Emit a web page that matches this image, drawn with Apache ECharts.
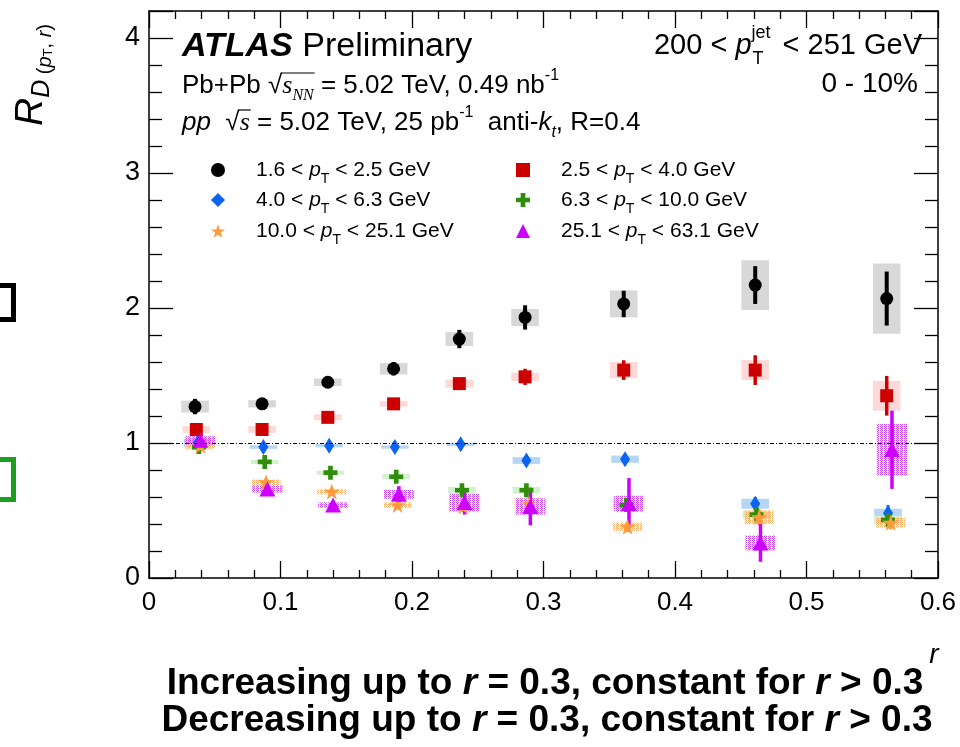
<!DOCTYPE html>
<html>
<head>
<meta charset="utf-8">
<script src="https://cdn.jsdelivr.net/npm/echarts@6/dist/echarts.min.js"></script>
<style>
html, body { margin: 0; padding: 0; background: #fff; }
#chart { width: 960px; height: 747px; }
</style>
</head>
<body>
<div id="chart"></div>
<script>
// R_D(pT, r) in 200 < pT(jet) < 251 GeV, 0-10% centrality, per track-pT interval.
// Each interval: r positions, central values, statistical and systematic half-widths.
const rBlack    = [0.035, 0.086, 0.136, 0.186, 0.236, 0.286, 0.361, 0.461, 0.561];
const valBlack  = [1.27, 1.29, 1.45, 1.55, 1.77, 1.93, 2.03, 2.17, 2.07];
const statBlack = [0.057, 0.02, 0.02, 0.05, 0.068, 0.09, 0.098, 0.14, 0.2];
const systBlack = [0.044, 0.027, 0.027, 0.043, 0.052, 0.063, 0.10, 0.184, 0.26];

const rRed    = [0.036, 0.086, 0.136, 0.186, 0.236, 0.286, 0.361, 0.461, 0.561];
const valRed  = [1.10, 1.10, 1.19, 1.29, 1.44, 1.49, 1.54, 1.54, 1.35];
const statRed = [0.02, 0.02, 0.02, 0.02, 0.025, 0.06, 0.073, 0.11, 0.147];
const systRed = [0.025, 0.025, 0.022, 0.02, 0.03, 0.03, 0.06, 0.074, 0.11];

const rBlue    = [0.037, 0.087, 0.137, 0.187, 0.237, 0.287, 0.362, 0.461, 0.562];
const valBlue  = [1.00, 0.97, 0.98, 0.97, 0.99, 0.87, 0.88, 0.55, 0.48];
const statBlue = [0.01, 0.01, 0.01, 0.01, 0.01, 0.015, 0.02, 0.05, 0.06];
const systBlue = [0.03, 0.013, 0.012, 0.012, 0.012, 0.025, 0.027, 0.037, 0.033];

const rGreen    = [0.038, 0.088, 0.138, 0.188, 0.238, 0.287, 0.363, 0.462, 0.562];
const valGreen  = [0.97, 0.86, 0.78, 0.75, 0.65, 0.65, 0.54, 0.47, 0.43];
const statGreen = [0.02, 0.03, 0.03, 0.03, 0.04, 0.04, 0.05, 0.04, 0.05];
const systGreen = [0.02, 0.015, 0.015, 0.02, 0.025, 0.025, 0.03, 0.03, 0.03];

const rOrange    = [0.039, 0.089, 0.139, 0.189, 0.239, 0.289, 0.364, 0.464, 0.564];
const valOrange  = [0.98, 0.71, 0.64, 0.54, 0.53, 0.55, 0.38, 0.45, 0.41];
const statOrange = [0.02, 0.03, 0.03, 0.03, 0.04, 0.05, 0.04, 0.06, 0.05];
const systOrange = [0.02, 0.02, 0.02, 0.02, 0.04, 0.04, 0.03, 0.05, 0.037];

const rMagenta    = [0.039, 0.090, 0.140, 0.190, 0.240, 0.290, 0.365, 0.465, 0.565];
const valMagenta  = [1.02, 0.66, 0.54, 0.62, 0.56, 0.53, 0.55, 0.26, 0.95];
const statMagenta = [0.03, 0.03, 0.03, 0.06, 0.09, 0.14, 0.19, 0.14, 0.29];
const systMagenta = [0.03, 0.027, 0.02, 0.033, 0.064, 0.06, 0.06, 0.055, 0.19];

const binLabels = [
  '1.6 < pT < 2.5 GeV', '2.5 < pT < 4.0 GeV', '4.0 < pT < 6.3 GeV',
  '6.3 < pT < 10.0 GeV', '10.0 < pT < 25.1 GeV', '25.1 < pT < 63.1 GeV'
];
const xTicks = [0, 0.1, 0.2, 0.3, 0.4, 0.5, 0.6];
const yTicks = [0, 1, 2, 3, 4];
const referenceLevel = 1;

const FONT = '"Liberation Sans", Arial, Helvetica, sans-serif';
const SERIF = '"Liberation Serif", "Times New Roman", serif';

// small repeating tile used for the hatched systematic boxes
function hatchTile(color) {
  const c = document.createElement('canvas');
  c.width = 4; c.height = 4;
  const g = c.getContext('2d');
  g.fillStyle = color;
  [[0,0],[2,0],[1,1],[0,2],[2,2],[1,3]].forEach(([x, y]) => g.fillRect(x, y, 1, 1));
  return { image: c, repeat: 'repeat' };
}

// text width helper, used to place the bar over the square-root arguments
const measureCtx = document.createElement('canvas').getContext('2d');
function textWidth(font, s) { measureCtx.font = font; return measureCtx.measureText(s).width; }

const bins = [
  { name: binLabels[0], r: rBlack, val: valBlack, stat: statBlack, syst: systBlack,
    color: '#000000', box: '#d8d8d8', symbol: 'circle', size: 13, barW: 4, hw: 0.0105 },
  { name: binLabels[1], r: rRed, val: valRed, stat: statRed, syst: systRed,
    color: '#cc0000', box: '#ffd8d8', symbol: 'rect', size: 13, barW: 3.5, hw: 0.0105 },
  { name: binLabels[2], r: rBlue, val: valBlue, stat: statBlue, syst: systBlue,
    color: '#0a64f0', box: '#b6d6f6', symbol: 'diamond', size: [10, 16], barW: 3, hw: 0.0105 },
  { name: binLabels[3], r: rGreen, val: valGreen, stat: statGreen, syst: systGreen,
    color: '#2f8f0a', box: '#d2f2cf', symbol: 'path://M4,0H8V4H12V8H8V12H4V8H0V4H4Z', size: 14, barW: 3, hw: 0.0105 },
  { name: binLabels[4], r: rOrange, val: valOrange, stat: statOrange, syst: systOrange,
    color: '#ff9a3c', box: hatchTile('#ffa860'), symbol: 'path://M50,0L61.8,35.4H97.6L68.9,57.3L79.4,92.7L50,71L20.6,92.7L31.1,57.3L2.4,35.4H38.2Z', size: 16, barW: 3, hw: 0.011 },
  { name: binLabels[5], r: rMagenta, val: valMagenta, stat: statMagenta, syst: systMagenta,
    color: '#cc00ff', box: hatchTile('#d040ff'), symbol: 'triangle', size: [16, 15], barW: 3.5, hw: 0.0115 }
];

function boxRenderer(fill, hw) {
  return function (params, api) {
    const r = api.value(0), v = api.value(1), e = api.value(2);
    const p1 = api.coord([r - hw, v + e]);
    const p2 = api.coord([r + hw, v - e]);
    return { type: 'rect', shape: { x: p1[0], y: p1[1], width: p2[0] - p1[0], height: p2[1] - p1[1] },
             style: { fill: fill } };
  };
}
function barRenderer(color, width) {
  return function (params, api) {
    const r = api.value(0), v = api.value(1), e = api.value(2);
    const lo = api.coord([r, v - e]);
    const hi = api.coord([r, v + e]);
    return { type: 'line', shape: { x1: lo[0], y1: lo[1], x2: hi[0], y2: hi[1] },
             style: { stroke: color, lineWidth: width } };
  };
}

const series = [];
bins.forEach((b, k) => {
  series.push({
    type: 'custom', name: b.name + ' (syst)', z: 2, silent: true,
    renderItem: boxRenderer(b.box, b.hw), encode: { x: 0, y: 1 },
    data: b.r.map((x, i) => [x, b.val[i], b.syst[i]]),
    markLine: k === 0 ? {
      silent: true, symbol: 'none', label: { show: false }, animation: false,
      lineStyle: { color: '#000', width: 1, type: [4, 2, 1, 2] },
      data: [{ yAxis: referenceLevel }]
    } : undefined
  });
});
bins.forEach(b => {
  series.push({
    type: 'custom', name: b.name + ' (stat)', z: 3, silent: true,
    renderItem: barRenderer(b.color, b.barW), encode: { x: 0, y: 1 },
    data: b.r.map((x, i) => [x, b.val[i], b.stat[i]])
  });
  series.push({
    type: 'scatter', name: b.name, z: 3, symbol: b.symbol, symbolSize: b.size,
    itemStyle: { color: b.color, opacity: 1 },
    data: b.r.map((x, i) => [x, b.val[i]])
  });
});

const legendRich = {
  i: { fontStyle: 'italic', fontSize: 21, fontFamily: FONT, color: '#000', lineHeight: 32 },
  s: { fontSize: 14, fontFamily: FONT, color: '#000', verticalAlign: 'bottom', lineHeight: 14 }
};
const legendSpots = [
  { left: 211, top: 154, pad: 26 }, { left: 516, top: 154, pad: 26 },
  { left: 211, top: 184, pad: 26 }, { left: 516, top: 184, pad: 26 },
  { left: 211, top: 215, pad: 26 }, { left: 516, top: 215, pad: 26 }
];
const legends = bins.map((b, k) => ({
  data: [b.name], left: legendSpots[k].left, top: legendSpots[k].top,
  orient: 'horizontal', itemWidth: 14, itemHeight: 14, padding: 0,
  selectedMode: false,
  formatter: n => n.replace('pT', '{i|p}{s|T}'),
  textStyle: { fontSize: 21, fontFamily: FONT, color: '#000', lineHeight: 32,
               padding: [0, 0, 0, legendSpots[k].pad], rich: legendRich }
}));

function axisCommon(extra) {
  return Object.assign({
    type: 'value',
    axisLine: { show: true, onZero: false, lineStyle: { color: '#000', width: 1.5 } },
    splitLine: { show: false },
    minorSplitLine: { show: false }
  }, extra);
}

// rich-text helpers: every token flows left to right inside its block
function tok(size, extra) {
  return Object.assign({ fontSize: size, fontFamily: FONT, fill: '#000', align: 'left' }, extra || {});
}

// square-root bars
const infoSize = 26;
const pbRootStart = 182 + textWidth(infoSize + 'px ' + FONT, 'Pb+Pb √') - 1;
const pbRootLen = textWidth('italic ' + infoSize + 'px ' + SERIF, 's') + textWidth('italic 16px ' + SERIF, 'NN') + 2;
const ppRootStart = 182 + textWidth('italic ' + infoSize + 'px ' + FONT, 'pp') + textWidth(infoSize + 'px ' + FONT, '  √') - 1;
const ppRootLen = textWidth('italic ' + infoSize + 'px ' + SERIF, 's') + 2;

const option = {
  animation: false,
  backgroundColor: '#ffffff',
  textStyle: { fontFamily: FONT },
  grid: { left: 149, right: 22, top: 11, bottom: 169, containLabel: false, outerBoundsMode: 'none' },
  xAxis: [
    axisCommon({
      position: 'bottom', min: xTicks[0], max: xTicks[xTicks.length - 1], interval: 0.1,
      axisTick: { show: true, inside: true, length: 17, lineStyle: { color: '#000', width: 1.3 } },
      minorTick: { show: true, splitNumber: 5, length: 8, lineStyle: { color: '#000', width: 1.3 } },
      axisLabel: { show: true, color: '#000', fontSize: 26, fontFamily: FONT, margin: 12,
                   formatter: v => (v === 0 ? '0' : v.toFixed(1)) }
    }),
    axisCommon({
      position: 'top', min: xTicks[0], max: xTicks[xTicks.length - 1], interval: 0.1,
      axisTick: { show: true, inside: true, length: 17, lineStyle: { color: '#000', width: 1.3 } },
      minorTick: { show: true, splitNumber: 5, length: 8, lineStyle: { color: '#000', width: 1.3 } },
      axisLabel: { show: false }
    })
  ],
  yAxis: [
    axisCommon({
      position: 'left', min: yTicks[0], max: 4.2, interval: 1,
      axisTick: { show: true, inside: true, length: 24, lineStyle: { color: '#000', width: 1.3 } },
      minorTick: { show: true, splitNumber: 5, length: 13, lineStyle: { color: '#000', width: 1.3 } },
      axisLabel: { show: true, color: '#000', fontSize: 27, fontFamily: FONT, margin: 9,
                   showMaxLabel: false,
                   formatter: v => (yTicks.indexOf(v) >= 0 ? String(v) : '') }
    }),
    axisCommon({
      position: 'right', min: yTicks[0], max: 4.2, interval: 1,
      axisTick: { show: true, inside: true, length: 24, lineStyle: { color: '#000', width: 1.3 } },
      minorTick: { show: true, splitNumber: 5, length: 13, lineStyle: { color: '#000', width: 1.3 } },
      axisLabel: { show: false }
    })
  ],
  legend: legends,
  graphic: [
    // experiment label
    { type: 'text', x: 182, y: 47, z: 10, silent: true,
      style: { text: '{b|ATLAS}{n| Preliminary}', verticalAlign: 'middle', align: 'left',
        rich: {
          b: tok(34, { fontWeight: 'bold', fontStyle: 'italic' }),
          n: tok(34)
        } } },
    { type: 'text', x: 182, y: 86, z: 10, silent: true,
      style: { text: '{a|Pb+Pb √}{i|s}{sub|NN}{a| = 5.02 TeV, 0.49 nb}{sup|-1}', verticalAlign: 'middle', align: 'left',
        rich: {
          a: tok(infoSize, { lineHeight: 36 }),
          i: tok(infoSize, { fontStyle: 'italic', fontFamily: SERIF, lineHeight: 36 }),
          sub: tok(16, { fontStyle: 'italic', fontFamily: SERIF, verticalAlign: 'bottom', lineHeight: 15 }),
          sup: tok(16, { verticalAlign: 'top', lineHeight: 19 })
        } } },
    { type: 'line', z: 10, silent: true,
      shape: { x1: pbRootStart, y1: 73, x2: pbRootStart + pbRootLen, y2: 73 },
      style: { stroke: '#000', lineWidth: 1.2 } },
    { type: 'text', x: 182, y: 123, z: 10, silent: true,
      style: { text: '{i|pp}{a|  √}{j|s}{a| = 5.02 TeV, 25 pb}{sup|-1}{a|  anti-}{i|k}{sub|t}{a|, R=0.4}', verticalAlign: 'middle', align: 'left',
        rich: {
          a: tok(infoSize, { lineHeight: 36 }),
          i: tok(infoSize, { fontStyle: 'italic', lineHeight: 36 }),
          j: tok(infoSize, { fontStyle: 'italic', fontFamily: SERIF, lineHeight: 36 }),
          sub: tok(16, { fontStyle: 'italic', verticalAlign: 'bottom', lineHeight: 15 }),
          sup: tok(16, { verticalAlign: 'top', lineHeight: 19 })
        } } },
    { type: 'line', z: 10, silent: true,
      shape: { x1: ppRootStart, y1: 110, x2: ppRootStart + ppRootLen, y2: 110 },
      style: { stroke: '#000', lineWidth: 1.2 } },
    { type: 'text', x: 922, y: 46, z: 10, silent: true,
      style: { text: '{a|200 < }{i|p}{sup|jet}{sub|T}{a|< 251 GeV}', verticalAlign: 'middle', align: 'right',
        rich: {
          a: tok(29, { lineHeight: 44 }),
          i: tok(29, { fontStyle: 'italic', lineHeight: 44 }),
          sup: tok(18, { verticalAlign: 'top', lineHeight: 18, width: 1 }),
          sub: tok(18, { verticalAlign: 'bottom', lineHeight: 18, width: 30 })
        } } },
    { type: 'text', x: 918, y: 84, z: 10, silent: true,
      style: { text: '0 - 10%', verticalAlign: 'middle', align: 'right', font: '28px ' + FONT, fill: '#000' } },
    // y-axis title
    { type: 'text', x: 31, y: 75, rotation: Math.PI / 2, z: 10, silent: true,
      style: { text: '{R|R}{D|D}{q| (}{qi|p}{qs|T}{q|, }{qi|r}{q|)}', align: 'center', verticalAlign: 'middle',
        rich: {
          R: tok(39, { fontStyle: 'italic', lineHeight: 48 }),
          D: tok(25, { fontStyle: 'italic', verticalAlign: 'bottom', lineHeight: 31 }),
          q: tok(20, { verticalAlign: 'bottom', lineHeight: 31 }),
          qi: tok(20, { fontStyle: 'italic', verticalAlign: 'bottom', lineHeight: 31 }),
          qs: tok(13, { verticalAlign: 'bottom', lineHeight: 17 })
        } } },
    // x-axis title
    { type: 'text', x: 934, y: 655, z: 10, silent: true,
      style: { text: 'r', align: 'center', verticalAlign: 'middle', font: 'italic 28px ' + FONT, fill: '#000' } },
    // summary lines
    { type: 'text', x: 545, y: 684, z: 10, silent: true,
      style: { text: '{a|Increasing up to }{i|r}{a| = 0.3, constant for }{i|r}{a| > 0.3}', align: 'center', verticalAlign: 'middle',
        rich: { a: tok(37, { fontWeight: 'bold' }), i: tok(37, { fontWeight: 'bold', fontStyle: 'italic' }) } } },
    { type: 'text', x: 547, y: 721, z: 10, silent: true,
      style: { text: '{a|Decreasing up to }{i|r}{a| = 0.3, constant for }{i|r}{a| > 0.3}', align: 'center', verticalAlign: 'middle',
        rich: { a: tok(37, { fontWeight: 'bold' }), i: tok(37, { fontWeight: 'bold', fontStyle: 'italic' }) } } },
    // outline markers at the left edge
    { type: 'rect', z: 10, silent: true, shape: { x: -10, y: 285.5, width: 23.5, height: 34 },
      style: { fill: 'none', stroke: '#000', lineWidth: 5 } },
    { type: 'rect', z: 10, silent: true, shape: { x: -10, y: 459.5, width: 23.5, height: 40 },
      style: { fill: 'none', stroke: '#1ca01c', lineWidth: 5 } }
  ],
  series: series
};

const chart = echarts.init(document.getElementById('chart'), null, { renderer: 'canvas' });
chart.setOption(option);
</script>
</body>
</html>
